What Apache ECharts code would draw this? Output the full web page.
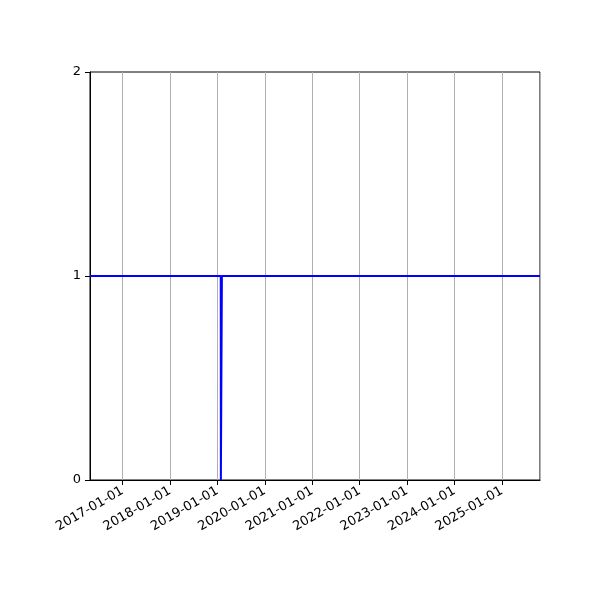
<!DOCTYPE html>
<html>
<head>
<meta charset="utf-8">
<script src="https://cdn.jsdelivr.net/npm/echarts@6/dist/echarts.min.js"></script>
<style>
    html, body { margin: 0; padding: 0; background: #fff; }
    #chart { width: 600px; height: 600px; }
</style>
</head>
<body>
<div id="chart"></div>
<script>
// x range shown by the axis
var xRange = ['2016-04-25', '2025-10-21'];
// series: dates and values (1 = up, 0 = down)
var dates = ['2016-04-25', '2019-01-27', '2019-01-28', '2019-02-04', '2019-02-05', '2025-10-21'];
var values = [1, 1, 0, 0, 1, 1];
// y tick labels
var yTicks = [0, 1, 2];

(function () {
    var font = 'DejaVu Sans';
    var day = 24 * 3600 * 1000;

    var seriesData = [];
    for (var i = 0; i < dates.length; i++) {
        seriesData.push([dates[i], values[i]]);
    }

    var option = {
        animation: false,
        backgroundColor: '#fff',
        grid: {
            left: 90, right: 60, top: 72, bottom: 120,
            show: true, borderColor: '#000', borderWidth: 1
        },
        xAxis: {
            type: 'time',
            min: xRange[0],
            max: xRange[1],
            minInterval: 365 * day,
            maxInterval: 366 * day,
            axisLine: { show: true, lineStyle: { color: '#000', width: 1 } },
            axisTick: { show: true, length: 5, lineStyle: { color: '#000' } },
            splitLine: { show: true, lineStyle: { color: '#b0b0b0', width: 1 } },
            axisLabel: {
                rotate: 30,
                color: '#000',
                fontFamily: font,
                fontSize: 13,
                showMinLabel: false,
                showMaxLabel: false,
                formatter: '{yyyy}-{MM}-{dd}',
                margin: 10
            }
        },
        yAxis: {
            type: 'value',
            min: yTicks[0],
            max: yTicks[yTicks.length - 1],
            interval: 1,
            axisLine: { show: true, lineStyle: { color: '#000', width: 1 } },
            axisTick: { show: true, length: 5, lineStyle: { color: '#000' } },
            splitLine: { show: false },
            axisLabel: { color: '#000', fontFamily: font, fontSize: 13, margin: 9 }
        },
        series: [{
            type: 'line',
            data: seriesData,
            showSymbol: false,
            lineStyle: { color: '#0000ff', width: 2 },
            z: 3
        }]
    };

    var chart = echarts.init(document.getElementById('chart'));
    chart.setOption(option);
})();
</script>
</body>
</html>
